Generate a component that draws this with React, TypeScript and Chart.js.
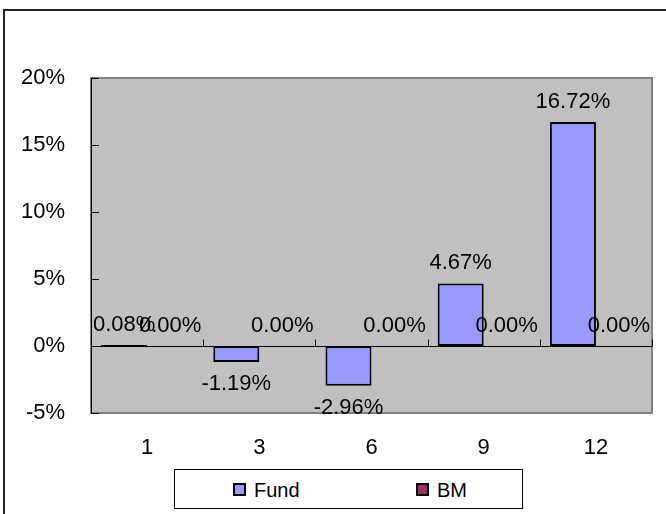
import React, { useEffect, useRef } from "react";
import { Chart, registerables } from "chart.js";

Chart.register(...registerables);

const categories: string[] = ["1", "3", "6", "9", "12"];
const fundValues: number[] = [0.08, -1.19, -2.96, 4.67, 16.72];
const bmValues: number[] = [0, 0, 0, 0, 0];
const seriesNames: string[] = ["Fund", "BM"];
const seriesColors: string[] = ["#9999FF", "#993366"];
const yMin = -5;
const yMax = 20;
const yStep = 5;

const FONT = '"Liberation Sans", Arial, sans-serif';

const framePlugin = {
  id: "excelFrame",
  beforeDatasetsDraw(chart: any) {
    const { ctx, chartArea } = chart;
    const { left, right, top, bottom } = chartArea;
    const y = chart.scales.y;
    const x = chart.scales.x;
    ctx.save();
    ctx.fillStyle = "#C0C0C0";
    ctx.fillRect(left, top, right - left, bottom - top);
    ctx.strokeStyle = "#808080";
    ctx.lineWidth = 2;
    ctx.strokeRect(left, top, right - left, bottom - top);
    // y axis line
    ctx.strokeStyle = "#000";
    ctx.lineWidth = 1;
    ctx.beginPath();
    ctx.moveTo(left + 0.5, top);
    ctx.lineTo(left + 0.5, bottom);
    ctx.stroke();
    // y ticks (inside)
    for (let v = yMin; v <= yMax; v += yStep) {
      const py = Math.round(y.getPixelForValue(v)) + 0.5;
      ctx.beginPath();
      ctx.moveTo(left, py);
      ctx.lineTo(left + 8, py);
      ctx.stroke();
    }
    // zero line
    const zy = Math.round(y.getPixelForValue(0)) + 0.5;
    ctx.beginPath();
    ctx.moveTo(left, zy);
    ctx.lineTo(right, zy);
    ctx.stroke();
    // category boundary ticks
    const n = categories.length;
    const w = (x.right - x.left) / n;
    for (let i = 0; i <= n; i++) {
      const px = Math.round(x.left + w * i) + 0.5;
      ctx.beginPath();
      ctx.moveTo(px, zy);
      ctx.lineTo(px, zy - 7);
      ctx.stroke();
    }
    ctx.restore();
  },
  afterDatasetsDraw(chart: any) {
    const { ctx } = chart;
    ctx.save();
    ctx.font = `22px ${FONT}`;
    ctx.fillStyle = "#000";
    ctx.textAlign = "center";
    ctx.textBaseline = "middle";
    chart.data.datasets.forEach((ds: any, di: number) => {
      const meta = chart.getDatasetMeta(di);
      meta.data.forEach((bar: any, i: number) => {
        const v = ds.data[i];
        const txt = v.toFixed(2) + "%";
        const ty = v < 0 ? bar.y + 22 : bar.y - 20;
        ctx.fillText(txt, bar.x, ty);
      });
    });
    ctx.restore();
  },
};

export default function App() {
  const ref = useRef<HTMLCanvasElement | null>(null);

  useEffect(() => {
    if (!ref.current) return;
    const chart = new Chart(ref.current, {
      type: "bar",
      data: {
        labels: categories,
        datasets: [
          {
            label: seriesNames[0],
            data: fundValues,
            backgroundColor: seriesColors[0],
            borderColor: "#000",
            borderWidth: 2,
            borderSkipped: false,
          },
          {
            label: seriesNames[1],
            data: bmValues,
            backgroundColor: seriesColors[1],
            borderColor: "#000",
            borderWidth: 2,
            borderSkipped: false,
          },
        ],
      },
      options: {
        responsive: false,
        animation: false,
        devicePixelRatio: 1,
        layout: { padding: { left: 0, right: 14, top: 78, bottom: 57 } },
        datasets: {
          bar: { categoryPercentage: 0.82, barPercentage: 1.0 },
        },
        plugins: {
          legend: { display: false },
          tooltip: { enabled: false },
          title: { display: false },
        },
        scales: {
          x: {
            grid: { display: false },
            border: { display: false },
            ticks: {
              color: "#000",
              font: { family: FONT, size: 22 },
              padding: 14,
              maxRotation: 0,
            },
            afterFit: (s: any) => {
              s.height = 44;
            },
          },
          y: {
            min: yMin,
            max: yMax,
            grid: { display: false },
            border: { display: false },
            ticks: {
              stepSize: yStep,
              color: "#000",
              font: { family: FONT, size: 22 },
              padding: 18,
              callback: (v: any) => `${v}%`,
            },
            afterFit: (s: any) => {
              s.width = 91;
            },
          },
        },
      },
      plugins: [framePlugin],
    } as any);
    return () => chart.destroy();
  }, []);

  const legendItems = [
    { name: seriesNames[0], color: seriesColors[0], boxLeft: 233, textLeft: 254 },
    { name: seriesNames[1], color: seriesColors[1], boxLeft: 416, textLeft: 437 },
  ];

  return (
    <div
      style={{
        position: "fixed",
        left: 0,
        top: 0,
        width: 666,
        height: 514,
        overflow: "hidden",
        background: "#fff",
      }}
    >
      <div
        style={{
          position: "absolute",
          left: 3,
          top: 9,
          width: 720,
          height: 600,
          borderLeft: "2px solid #222",
          borderTop: "2px solid #222",
        }}
      />
      <canvas
        ref={ref}
        width={666}
        height={514}
        style={{ position: "absolute", left: 0, top: 0, width: 666, height: 514 }}
      />
      <div
        style={{
          position: "absolute",
          left: 174,
          top: 469,
          width: 349,
          height: 40,
          border: "1px solid #000",
          boxSizing: "border-box",
          background: "#fff",
        }}
      />
      {legendItems.map((it) => (
        <React.Fragment key={it.name}>
          <div
            style={{
              position: "absolute",
              left: it.boxLeft,
              top: 483,
              width: 13,
              height: 13,
              background: it.color,
              border: "2px solid #000",
              boxSizing: "border-box",
            }}
          />
          <div
            style={{
              position: "absolute",
              left: it.textLeft,
              top: 478,
              height: 24,
              lineHeight: "24px",
              fontFamily: FONT,
              fontSize: 20,
              color: "#000",
              whiteSpace: "nowrap",
            }}
          >
            {it.name}
          </div>
        </React.Fragment>
      ))}
    </div>
  );
}
